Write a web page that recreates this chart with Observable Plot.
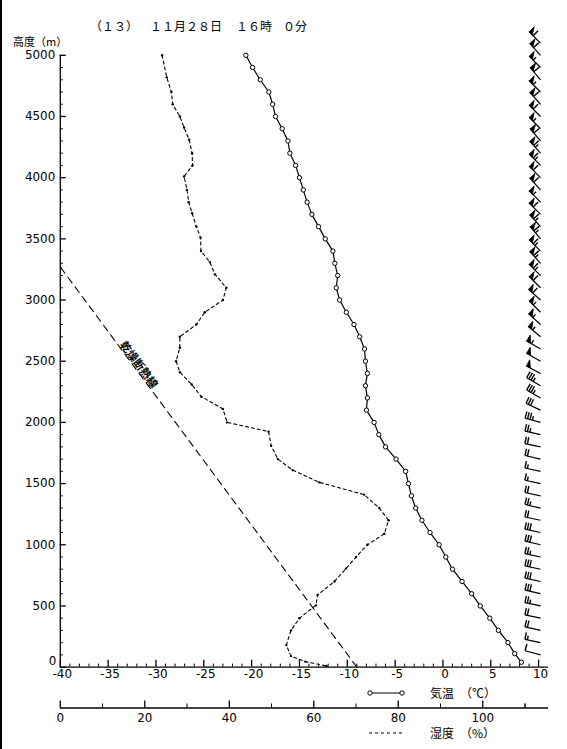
<!DOCTYPE html>
<html>
<head>
<meta charset="utf-8">
<script src="https://cdn.jsdelivr.net/npm/d3@7"></script>
<script src="https://cdn.jsdelivr.net/npm/@observablehq/plot@0.6"></script>
<style>
  html, body { margin: 0; padding: 0; background: #fff; }
  #wrap { position: relative; width: 567px; height: 749px; overflow: hidden; border-left: 2px solid #000; box-sizing: border-box; }
  #wrap svg.plot { position: absolute; left: -2px; top: 0; }
  .lbl { position: absolute; font-family: "Noto Sans CJK JP", "DejaVu Sans", sans-serif; font-size: 12px; color: #000; white-space: nowrap; line-height: 1; }
</style>
</head>
<body>
<div id="wrap"></div>
<script>
// ---------------- data ----------------
const tempHeights = [5000,4900,4800,4700,4600,4500,4400,4300,4200,4100,4000,3900,3800,3700,3600,3500,3400,3300,3200,3100,3000,2900,2800,2700,2600,2500,2400,2300,2200,2100,2000,1900,1800,1700,1600,1500,1400,1300,1200,1100,1000,900,800,700,600,500,400,300,200,110,40];
const tempValues  = [-20.6,-19.9,-19.1,-18.2,-17.8,-17.5,-16.8,-16.2,-16.0,-15.4,-15.0,-14.6,-14.2,-13.7,-13.0,-12.3,-11.5,-11.3,-11.0,-11.15,-10.8,-10.1,-9.3,-8.7,-8.2,-8.1,-7.9,-8.1,-7.9,-8.0,-7.2,-6.7,-6.0,-4.9,-3.9,-3.6,-3.3,-2.85,-2.2,-1.35,-0.4,0.3,1.0,2.0,3.0,3.9,4.9,5.8,6.8,7.5,8.2];

const rhHeights = [5000,4820,4700,4600,4500,4410,4310,4200,4100,4010,3900,3800,3710,3600,3510,3400,3310,3210,3100,3000,2900,2800,2700,2610,2500,2410,2310,2210,2110,2000,1925,1810,1700,1610,1510,1410,1300,1200,1090,1000,900,805,700,590,505,400,300,180,90,45,10];
const rhValues  = [24.1,25.2,26.3,26.6,28.3,29.3,30.5,31.2,31.3,29.3,30.0,30.4,31.2,32.2,33.2,33.3,35.4,36.6,39.3,38.5,34.2,32.2,28.3,28.3,27.4,28.3,31.1,33.4,38.5,39.5,49.3,49.9,51.5,55.0,61.3,71.9,75.5,77.7,76.7,72.7,70.0,67.6,64.9,60.9,60.5,56.6,54.6,53.5,54.6,58.0,63.0];

const adiabatTemps = [-9.0, -40];
const adiabatHeights = [0, 3270];
const adiabatLabel = "乾燥断熱線";

const windHeights = [5100,5000,4900,4800,4700,4600,4500,4400,4300,4200,4100,4000,3900,3800,3700,3600,3500,3400,3300,3200,3100,3000,2900,2800,2700,2600,2500,2400,2300,2200,2100,2000,1900,1800,1700,1600,1500,1400,1300,1200,1100,1000,900,800,700,600,500,400,300,200,100];
const windDirs = [315,318,315,320,315,318,315,315,320,318,315,315,318,315,315,318,320,315,318,315,315,312,315,312,310,300,300,298,300,300,295,285,283,282,283,282,282,282,283,282,282,283,282,282,282,283,282,282,283,282,285];
const windSpeeds = [60,60,55,60,55,60,60,55,60,65,65,60,60,55,60,65,65,65,65,65,60,60,55,55,55,55,50,50,35,35,30,35,25,20,20,15,15,20,25,20,30,30,25,30,30,30,25,20,20,15,10];

const tempTicks = [-40,-35,-30,-25,-20,-15,-10,-5,0,5,10];
const tempTickLabels = ["-40","-35","-30","-25","-20","-15","-10","-5","0","5","10"];
const heightTicks = [0,500,1000,1500,2000,2500,3000,3500,4000,4500,5000];
const humTicks = [0,20,40,60,80,100];

// ---------------- layout ----------------
const W = 567, H = 749, mt = 55, mb = 80, ml = 60, mr = 17;
const innerW = W - ml - mr, innerH = H - mt - mb;
const tDomain = [-40, 11.04];
const hDomain = [0, 5000];
const rhDomain = [0, 115.57];
const kx = innerW / (tDomain[1] - tDomain[0]);   // px per °C
const ky = innerH / (hDomain[1] - hDomain[0]);   // px per m
const stationT = 10.2;
const font = "DejaVu Sans, sans-serif";

// ---------------- derived rows ----------------
const tempRows = tempHeights.map((h, i) => ({h, t: tempValues[i]}));
const rhRows = rhHeights.map((h, i) => ({h, rh: rhValues[i]}));
const adiabatRows = adiabatTemps.map((t, i) => ({t, h: adiabatHeights[i]}));
const adAngle = Math.atan2((adiabatHeights[1]-adiabatHeights[0])*ky, (adiabatTemps[0]-adiabatTemps[1])*kx) * 180 / Math.PI;
const adLabelRow = [{t: -31.8, h: 2470}];

const minorT = d3.range(-40, 11, 1).filter(v => v % 5 !== 0);
const minorH = d3.range(0, 5001, 100).filter(v => v % 500 !== 0);
const minorRH = d3.range(10, 116, 20);
const extraRH = [110];

// wind barbs geometry (pixel offsets converted through scale factors)
const staffs = [], barbLines = [], pennants = [];
const L = 16, BL = 7;
windHeights.forEach((h, i) => {
  const th = windDirs[i] * Math.PI / 180;
  const dx = Math.sin(th), dy = -Math.cos(th);
  const px = -dy, py = dx;
  const P = (a, n) => ({t: stationT + (a*dx + n*px)/kx, h: h - (a*dy + n*py)/ky});
  const s0 = P(0,0), s1 = P(L,0);
  staffs.push({t1: s0.t, h1: s0.h, t2: s1.t, h2: s1.h});
  let s = windSpeeds[i], pos = L;
  while (s >= 50) {
    const a = P(pos,0), b = P(pos-4.5,0), c = P(pos,BL);
    pennants.push({id: i+"p"+pos, ...a}, {id: i+"p"+pos, ...c}, {id: i+"p"+pos, ...b}, {id: i+"p"+pos, ...a});
    pos -= 5.5; s -= 50;
  }
  while (s >= 10) {
    const a = P(pos,0), b = P(pos,BL);
    barbLines.push({t1: a.t, h1: a.h, t2: b.t, h2: b.h});
    pos -= 2.5; s -= 10;
  }
  if (s >= 5) {
    const a = P(pos,0), b = P(pos,BL*0.6);
    barbLines.push({t1: a.t, h1: a.h, t2: b.t, h2: b.h});
  }
});

// ---------------- temperature plot ----------------
const plotT = Plot.plot({
  width: W, height: H, marginTop: mt, marginBottom: mb, marginLeft: ml, marginRight: mr,
  style: {background: "transparent", fontFamily: font, fontSize: "12px", color: "#000"},
  x: {domain: tDomain, axis: null},
  y: {domain: hDomain, axis: null},
  marks: [
    Plot.ruleX([tDomain[0]], {stroke: "#000", strokeWidth: 1.3}),
    Plot.ruleY([0], {stroke: "#000", strokeWidth: 1.3}),
    Plot.ruleY(minorH, {y: d => d, insetRight: innerW - 3, stroke: "#000"}),
    Plot.ruleY(heightTicks, {y: d => d, insetRight: innerW - 6, stroke: "#000", strokeWidth: 1.3}),
    Plot.text(heightTicks.filter(d => d !== 0), {y: d => d, frameAnchor: "left", dx: -5, textAnchor: "end", text: d => String(d), fontSize: 12}),
    Plot.text(heightTicks.filter(d => d === 0), {y: d => d, frameAnchor: "left", dx: -4, dy: -6, textAnchor: "end", text: d => String(d), fontSize: 12}),
    Plot.ruleX(minorT, {x: d => d, insetTop: innerH - 3, stroke: "#000"}),
    Plot.ruleX(tempTicks, {x: d => d, insetTop: innerH - 7, stroke: "#000", strokeWidth: 1.3}),
    Plot.text(tempTicks, {x: d => d, frameAnchor: "bottom", dy: 11, dx: 2, text: (d, i) => tempTickLabels[i], fontSize: 12}),
    Plot.line(adiabatRows, {x: "t", y: "h", stroke: "#000", strokeWidth: 1.1, strokeDasharray: "7,5"}),
    Plot.text(adLabelRow, {x: "t", y: "h", text: () => adiabatLabel, rotate: adAngle, fontSize: 11, fontFamily: "Noto Sans CJK JP", fontWeight: "bold"}),
    Plot.line(tempRows, {x: "t", y: "h", stroke: "#000", strokeWidth: 1.2}),
    Plot.dot(tempRows, {x: "t", y: "h", r: 2.2, fill: "#fff", stroke: "#000", strokeWidth: 1}),
    Plot.link(staffs, {x1: "t1", y1: "h1", x2: "t2", y2: "h2", stroke: "#000", strokeWidth: 1.2}),
    Plot.link(barbLines, {x1: "t1", y1: "h1", x2: "t2", y2: "h2", stroke: "#000", strokeWidth: 1.4}),
    Plot.line(pennants, {x: "t", y: "h", z: "id", fill: "#000", stroke: "#000", strokeWidth: 0.8})
  ]
});
plotT.classList.add("plot");

// ---------------- humidity plot (overlay) ----------------
const plotRH = Plot.plot({
  width: W, height: H, marginTop: mt, marginBottom: mb, marginLeft: ml, marginRight: mr,
  style: {background: "transparent", fontFamily: font, fontSize: "12px", color: "#000"},
  x: {domain: rhDomain, axis: null},
  y: {domain: hDomain, axis: null},
  marks: [
    Plot.line(rhRows, {x: "rh", y: "h", stroke: "#000", strokeWidth: 1.1, strokeDasharray: "3,3"}),
    Plot.dot(rhRows, {x: "rh", y: "h", r: 1.2, fill: "#000"}),
    Plot.ruleY([0], {dy: 41, stroke: "#000", strokeWidth: 1.3}),
    Plot.ruleX(minorRH.concat(extraRH), {x: d => d, insetTop: innerH - 4, dy: 41, stroke: "#000"}),
    Plot.ruleX(humTicks, {x: d => d, insetTop: innerH - 7, dy: 41, stroke: "#000", strokeWidth: 1.3}),
    Plot.text(humTicks, {x: d => d, frameAnchor: "bottom", dy: 55, text: d => String(d), fontSize: 12})
  ]
});
plotRH.classList.add("plot");

const wrap = document.getElementById("wrap");
wrap.appendChild(plotT);
wrap.appendChild(plotRH);

// ---------------- html texts ----------------
function label(text, left, top, extra) {
  const d = document.createElement("div");
  d.className = "lbl";
  d.textContent = text;
  d.style.left = left + "px";
  d.style.top = top + "px";
  if (extra) Object.assign(d.style, extra);
  wrap.appendChild(d);
}
const titleParts = [["（１３）", 88], ["１１月２８日", 148], ["１６時", 234], ["０分", 281]];
titleParts.forEach(([s, x]) => label(s, x, 20, {fontSize: "12px"}));
label("高度（m）", 11, 36, {fontSize: "11px"});
label("気温　（℃）", 428, 687, {fontSize: "12px"});
label("湿度　（%）", 428, 727, {fontSize: "12px"});

// legend samples
const ns = "http://www.w3.org/2000/svg";
function sample(top, dashed) {
  const s = document.createElementNS(ns, "svg");
  s.setAttribute("width", 40); s.setAttribute("height", 10);
  s.style.position = "absolute"; s.style.left = "364px"; s.style.top = top + "px";
  const ln = document.createElementNS(ns, "line");
  ln.setAttribute("x1", 3); ln.setAttribute("x2", 37); ln.setAttribute("y1", 5); ln.setAttribute("y2", 5);
  ln.setAttribute("stroke", "#000"); ln.setAttribute("stroke-width", 1.2);
  if (dashed) ln.setAttribute("stroke-dasharray", "3,3");
  s.appendChild(ln);
  if (!dashed) {
    [4, 36].forEach(cx => {
      const c = document.createElementNS(ns, "circle");
      c.setAttribute("cx", cx); c.setAttribute("cy", 5); c.setAttribute("r", 2.2);
      c.setAttribute("fill", "#fff"); c.setAttribute("stroke", "#000");
      s.appendChild(c);
    });
  }
  wrap.appendChild(s);
}
sample(688, false);
sample(728, true);
</script>
</body>
</html>
